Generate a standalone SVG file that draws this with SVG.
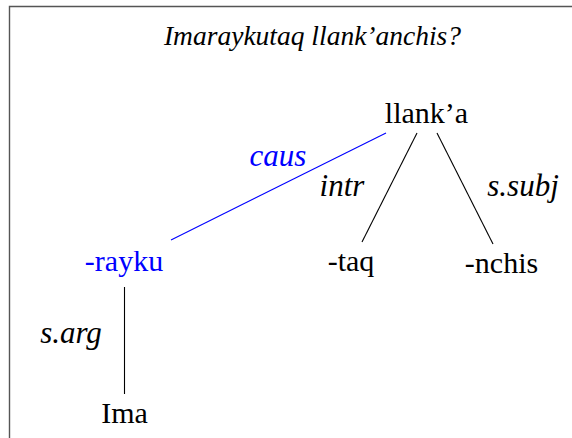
<svg xmlns="http://www.w3.org/2000/svg" width="572" height="438" viewBox="0 0 572 438">
<style>
text{font-family:"Liberation Serif","Noto Serif","DejaVu Serif","Nimbus Roman","FreeSerif","Tinos",Times,Georgia,serif}
.node{font-size:30px;fill:#000;text-anchor:middle}
.lab{font-size:31px;font-style:italic;fill:#000;text-anchor:middle}
.title{font-size:27.5px;font-style:italic;fill:#000;text-anchor:middle}
.blue{fill:#0000ff}
.edge{stroke:#000;stroke-width:1.1;fill:none}
.bedge{stroke:#0000ff;stroke-width:1.1;fill:none}
</style>
<rect width="572" height="438" fill="#fff"/>
<path d="M9.5,438 V6.5 H572" fill="none" stroke="#555" stroke-width="1.4"/>
<text class="title" x="312.5" y="45">Imaraykutaq llank’anchis?</text>
<g id="connectors">
<line class="bedge" x1="386" y1="133" x2="171" y2="240"/>
<line class="edge" x1="417" y1="133" x2="362" y2="242"/>
<line class="edge" x1="437" y1="133" x2="493" y2="244"/>
<line class="edge" x1="124.5" y1="287" x2="124.5" y2="394"/>
<text class="lab blue" x="278" y="166">caus</text>
<text class="lab" x="342" y="196">intr</text>
<text class="lab" x="523" y="196">s.subj</text>
<text class="lab" x="71" y="343">s.arg</text>
</g>
<g id="llanka"><text class="node" x="426.5" y="123">llank’a</text></g>
<g id="rayku"><text class="node blue" x="124" y="271">-rayku</text></g>
<g id="taq"><text class="node" x="351" y="271">-taq</text></g>
<g id="nchis"><text class="node" x="501.5" y="273">-nchis</text></g>
<g id="ima"><text class="node" x="124.5" y="423">Ima</text></g>
</svg>
